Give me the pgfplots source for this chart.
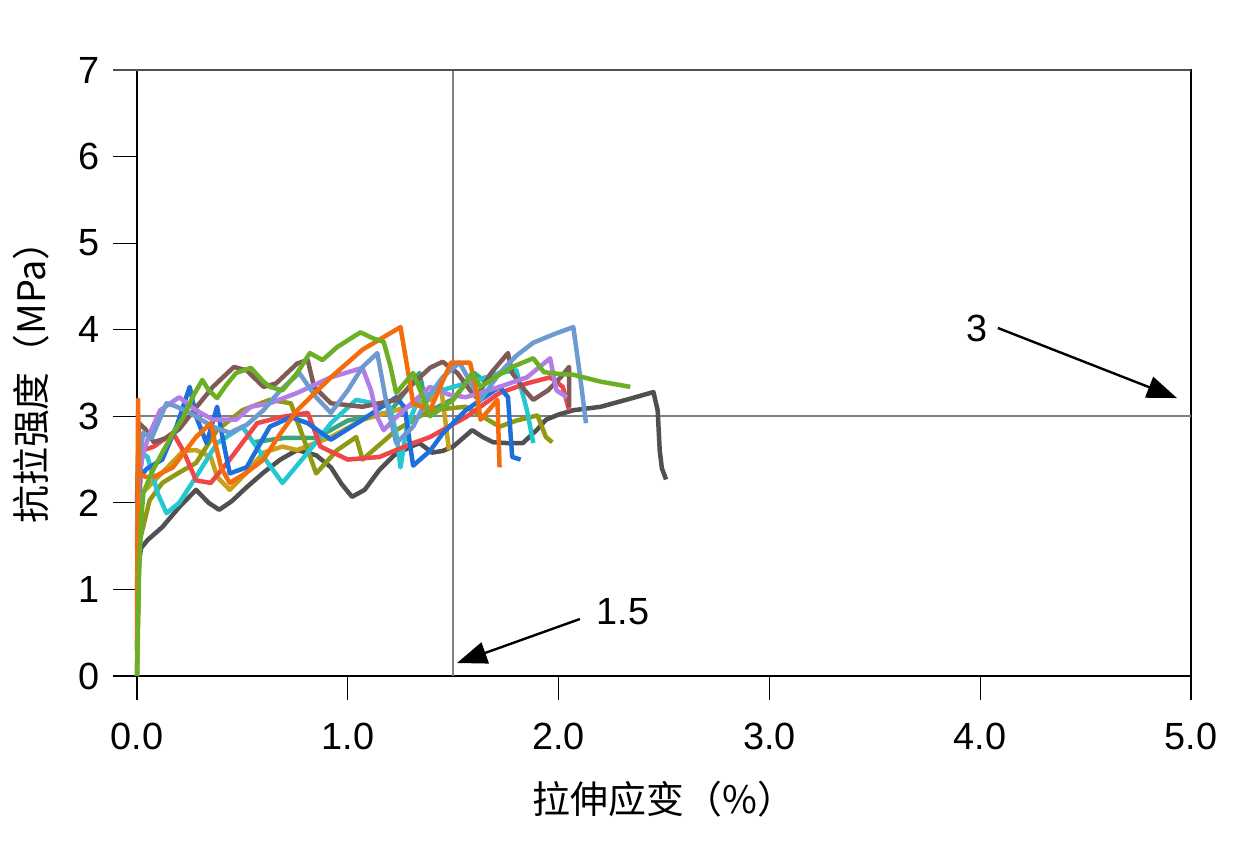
\documentclass[border=0pt]{standalone}
\usepackage{pgfplots}
\pgfplotsset{compat=1.18}
\usepackage{fontspec}
\setmainfont{Liberation Sans}
\newfontfamily\cjk{Noto Sans CJK SC}
\usetikzlibrary{arrows.meta}
\definecolor{cgray}{HTML}{505050}
\definecolor{cgreen}{HTML}{6BB024}
\definecolor{corange}{HTML}{F36D0F}
\definecolor{clblue}{HTML}{6D9BD1}
\definecolor{cpurple}{HTML}{B27EE6}
\definecolor{cbrown}{HTML}{7F5A58}
\definecolor{cblue}{HTML}{1E6FD9}
\definecolor{cred}{HTML}{EF4747}
\definecolor{ccyan}{HTML}{24C8D2}
\definecolor{colive}{HTML}{8F9914}
\definecolor{cgold}{HTML}{C8A01A}
\definecolor{cteal}{HTML}{3AA57A}
\definecolor{refgray}{HTML}{808080}
\begin{document}
\begin{tikzpicture}
\begin{axis}[
  scale only axis, width=1054bp, height=606bp,
  xmin=0, xmax=5, ymin=0, ymax=7,
  xtick={0,1,2,3,4,5}, ytick={0,1,2,3,4,5,6,7},
  xticklabel style={/pgf/number format/fixed, /pgf/number format/fixed zerofill, /pgf/number format/precision=1, yshift=-20bp},
  /pgf/number format/assume math mode=true,
  tick align=outside, major tick length=24bp,
  tick style={black, line width=1.2bp},
  xtick pos=bottom, ytick pos=left,
  axis line style={black, line width=1.5bp},
  ticklabel style={font=\fontsize{38}{40}\selectfont},
  yticklabel style={xshift=-10bp},
  xlabel={\cjk 拉伸应变（\%）},
  ylabel={\cjk 抗拉强度（MPa）},
  label style={font=\fontsize{38}{40}\selectfont},
  xlabel style={yshift=-24bp},
  ylabel style={yshift=22bp},
  clip=false,
  every axis plot/.append style={line width=4.5bp, line join=round},
]
\addplot[refgray, line width=2.2bp] coordinates {(1.5,0)(1.5,7)};
\addplot[refgray, line width=2.2bp] coordinates {(0,3)(5,3)};
\addplot[cgray] coordinates {(0,0.3)(0.01,1.35)(0.02,1.48)(0.05,1.57)(0.12,1.72)(0.2,1.95)(0.28,2.15)(0.34,2.0)(0.39,1.92)(0.45,2.02)(0.52,2.18)(0.6,2.35)(0.68,2.5)(0.76,2.61)(0.85,2.55)(0.92,2.41)(0.97,2.22)(1.02,2.07)(1.08,2.15)(1.15,2.38)(1.22,2.55)(1.3,2.65)(1.34,2.69)(1.40,2.58)(1.45,2.6)(1.50,2.65)(1.59,2.84)(1.64,2.76)(1.69,2.70)(1.76,2.69)(1.83,2.69)(1.9,2.85)(1.94,2.96)(2.0,3.02)(2.07,3.07)(2.2,3.11)(2.35,3.21)(2.45,3.28)(2.47,3.07)(2.48,2.6)(2.49,2.4)(2.51,2.27)};
\addplot[cteal] coordinates {(0.55,2.7)(0.7,2.75)(0.85,2.75)(1.0,2.95)(1.2,3.05)(1.34,3.5)(1.38,3.05)(1.5,3.2)(1.6,3.5)(1.65,3.4)};
\addplot[cgold] coordinates {(0,1.2)(0.02,2.1)(0.08,2.25)(0.16,2.45)(0.22,2.6)(0.28,2.61)(0.35,2.53)(0.38,2.3)(0.44,2.15)(0.52,2.35)(0.60,2.58)(0.69,2.65)(0.76,2.61)(0.92,2.76)(1.07,2.96)(1.23,3.07)(1.39,3.19)(1.44,3.38)(1.46,3.0)(1.48,2.61)};
\addplot[colive] coordinates {(0,0)(0.01,1.53)(0.06,2.03)(0.12,2.23)(0.2,2.35)(0.28,2.46)(0.38,2.84)(0.50,3.07)(0.63,3.19)(0.73,3.15)(0.81,2.61)(0.85,2.34)(0.95,2.61)(1.04,2.76)(1.07,2.50)(1.23,2.84)(1.39,3.07)(1.56,3.11)(1.72,2.88)(1.80,2.95)(1.90,3.01)(1.94,2.76)(1.97,2.70)};
\addplot[ccyan] coordinates {(0,1.5)(0.005,2.61)(0.05,2.53)(0.1,2.1)(0.14,1.88)(0.2,2.0)(0.28,2.30)(0.38,2.69)(0.50,2.88)(0.58,2.6)(0.69,2.23)(0.81,2.58)(0.92,2.92)(1.04,3.19)(1.20,3.11)(1.23,2.8)(1.25,2.41)(1.28,2.88)(1.34,3.22)(1.40,3.27)(1.56,3.38)(1.72,3.50)(1.80,3.53)(1.85,3.07)(1.88,2.69)};
\addplot[cred] coordinates {(0,1.0)(0.02,2.6)(0.08,2.65)(0.17,2.81)(0.22,2.6)(0.28,2.26)(0.35,2.23)(0.44,2.50)(0.57,2.92)(0.68,2.99)(0.81,3.04)(0.84,2.85)(0.87,2.65)(1.00,2.50)(1.15,2.53)(1.31,2.69)(1.39,2.76)(1.56,2.99)(1.72,3.27)(1.85,3.38)(1.96,3.45)(2.02,3.34)(2.05,3.07)};
\addplot[cblue] coordinates {(0,1.0)(0.01,2.3)(0.05,2.4)(0.12,2.50)(0.19,2.9)(0.25,3.34)(0.28,3.0)(0.33,2.69)(0.38,3.11)(0.41,2.7)(0.44,2.34)(0.52,2.41)(0.63,2.88)(0.73,2.99)(0.81,2.92)(0.92,2.73)(1.07,2.96)(1.23,3.22)(1.27,3.1)(1.31,2.43)(1.39,2.6)(1.45,2.8)(1.56,3.07)(1.72,3.34)(1.76,3.22)(1.78,2.53)(1.82,2.50)};
\addplot[cbrown] coordinates {(0,2.0)(0.01,2.92)(0.04,2.85)(0.08,2.7)(0.14,2.75)(0.2,2.85)(0.28,3.1)(0.36,3.34)(0.46,3.57)(0.52,3.53)(0.60,3.34)(0.66,3.38)(0.76,3.61)(0.81,3.65)(0.84,3.34)(0.92,3.15)(1.07,3.11)(1.23,3.19)(1.32,3.4)(1.39,3.56)(1.45,3.63)(1.52,3.5)(1.58,3.3)(1.61,3.22)(1.68,3.5)(1.76,3.73)(1.78,3.50)(1.84,3.3)(1.88,3.19)(1.95,3.3)(2.01,3.45)(2.05,3.57)(2.05,3.11)};
\addplot[cpurple] coordinates {(0,1.5)(0.01,2.3)(0.03,2.58)(0.06,2.8)(0.11,3.07)(0.20,3.22)(0.28,3.07)(0.36,2.96)(0.47,2.96)(0.54,3.11)(0.63,3.15)(0.76,3.27)(0.92,3.45)(1.07,3.56)(1.11,3.3)(1.14,2.99)(1.17,2.84)(1.23,2.99)(1.39,3.34)(1.48,3.25)(1.56,3.22)(1.72,3.34)(1.85,3.45)(1.96,3.67)(1.99,3.30)(2.04,3.22)};
\addplot[clblue] coordinates {(0,0)(0.01,2.5)(0.03,2.81)(0.07,2.75)(0.14,3.15)(0.18,3.12)(0.25,3.04)(0.36,2.88)(0.44,2.81)(0.52,2.9)(0.60,3.07)(0.68,3.3)(0.77,3.50)(0.85,3.22)(0.92,3.04)(1.0,3.3)(1.07,3.57)(1.14,3.73)(1.18,3.2)(1.23,2.69)(1.31,2.88)(1.38,3.22)(1.45,3.45)(1.53,3.62)(1.58,3.4)(1.63,3.19)(1.72,3.50)(1.8,3.7)(1.88,3.85)(1.98,3.95)(2.07,4.03)(2.10,3.5)(2.13,2.92)};
\addplot[corange] coordinates {(0,0.3)(0.005,3.19)(0.01,2.34)(0.04,2.3)(0.08,2.30)(0.17,2.41)(0.28,2.76)(0.35,2.92)(0.37,2.7)(0.40,2.4)(0.44,2.23)(0.52,2.35)(0.60,2.50)(0.68,2.8)(0.76,3.07)(0.92,3.45)(1.07,3.77)(1.25,4.03)(1.28,3.6)(1.31,3.15)(1.39,3.07)(1.44,3.35)(1.49,3.62)(1.58,3.62)(1.61,3.3)(1.63,2.96)(1.71,3.19)(1.72,2.41)};
\addplot[cgreen] coordinates {(0,0)(0.01,1.2)(0.02,1.8)(0.03,2.11)(0.07,2.35)(0.12,2.58)(0.17,2.8)(0.22,2.99)(0.27,3.25)(0.31,3.42)(0.34,3.3)(0.38,3.21)(0.42,3.35)(0.47,3.50)(0.54,3.56)(0.6,3.4)(0.63,3.34)(0.69,3.30)(0.76,3.5)(0.82,3.73)(0.88,3.65)(0.95,3.8)(1.06,3.97)(1.12,3.9)(1.17,3.86)(1.2,3.6)(1.23,3.27)(1.31,3.5)(1.36,3.2)(1.39,3.0)(1.45,3.1)(1.50,3.19)(1.55,3.35)(1.59,3.50)(1.63,3.34)(1.7,3.45)(1.78,3.57)(1.88,3.67)(1.93,3.51)(2.0,3.49)(2.07,3.48)(2.2,3.40)(2.34,3.34)};
\draw[line width=2.4bp, -{Triangle[length=30bp,width=22bp]}] (axis cs:4.084,4.02) -- (axis cs:4.934,3.21);
\draw[line width=2.4bp, -{Triangle[length=30bp,width=22bp]}] (axis cs:2.101,0.658) -- (axis cs:1.518,0.150);
\node[font=\fontsize{38}{40}\selectfont] at (axis cs:3.985,4.02) {3};
\node[font=\fontsize{38}{40}\selectfont] at (axis cs:2.306,0.739) {1.5};
\draw[color=cgray, line width=2.4bp] (axis cs:0,7) -- (axis cs:5,7);
\draw[color=cgray, line width=2.4bp] (axis cs:0,7) -- ++(-24bp,0);
\end{axis}
\pgfresetboundingbox
\path[use as bounding box] (-137bp,-176bp) rectangle (1099bp,676bp);
\end{tikzpicture}
\end{document}
